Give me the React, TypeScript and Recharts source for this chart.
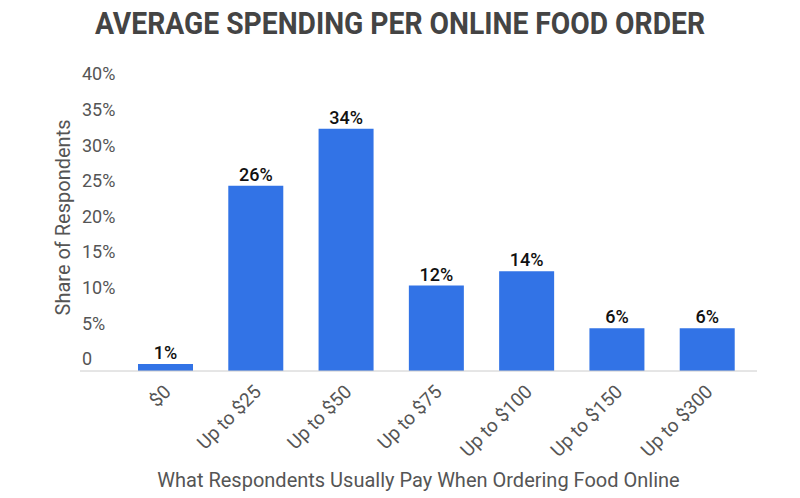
import { Bar, BarChart, LabelList, XAxis, YAxis } from 'recharts'

const categories = ['$0', 'Up to $25', 'Up to $50', 'Up to $75', 'Up to $100', 'Up to $150', 'Up to $300']
const shares = [1, 26, 34, 12, 14, 6, 6]
const yTicks = [0, 5, 10, 15, 20, 25, 30, 35, 40]

const data = categories.map((label, i) => ({ label, value: shares[i] }))

const FONT = 'Roboto, sans-serif'

function YTick(props: any) {
  const { x, y, payload } = props
  const v = payload.value
  return (
    <text x={x + 2} y={y - 12} dy="0.35em" textAnchor="start" fontFamily={FONT} fontSize={18} fill="#555">
      {v === 0 ? '0' : `${v}%`}
    </text>
  )
}

function XTick(props: any) {
  const { x, y, payload } = props
  const tx = x + 7
  const ty = y + 14
  return (
    <text
      x={tx}
      y={ty}
      textAnchor="end"
      transform={`rotate(-45, ${tx}, ${ty})`}
      fontFamily={FONT}
      fontSize={19}
      fill="#555"
    >
      {payload.value}
    </text>
  )
}

function YTitle(props: any) {
  const { viewBox } = props
  const cx = viewBox.x + viewBox.width - 17
  const cy = viewBox.y + viewBox.height / 2 - 11
  return (
    <text
      x={cx}
      y={cy}
      textAnchor="middle"
      dy="0.35em"
      transform={`rotate(-90, ${cx}, ${cy})`}
      fontFamily={FONT}
      fontSize={20}
      fill="#555"
    >
      Share of Respondents
    </text>
  )
}

export default function App() {
  return (
    <div style={{ position: 'absolute', left: 0, top: 0, width: 800, height: 498, background: '#fff' }}>
      <svg width={800} height={50} style={{ position: 'absolute', left: 0, top: 0 }}>
        <text
          x={400}
          y={34}
          textAnchor="middle"
          textLength={610}
          lengthAdjust="spacingAndGlyphs"
          fontFamily={FONT}
          fontWeight={700}
          fontSize={31}
          fill="#444"
        >
          AVERAGE SPENDING PER ONLINE FOOD ORDER
        </text>
      </svg>
      <div style={{ position: 'absolute', left: 0, top: 0 }}>
        <BarChart width={800} height={498} data={data} margin={{ top: 86, right: 43, bottom: 0, left: 0 }}>
          <XAxis
            dataKey="label"
            height={127}
            padding={{ left: 40, right: 5 }}
            axisLine={{ stroke: '#ccc' }}
            tickLine={false}
            interval={0}
            tick={<XTick />}
            label={{
              value: 'What Respondents Usually Pay When Ordering Food Online',
              position: 'insideBottom',
              offset: 11,
              fontFamily: FONT,
              fontSize: 20,
              fill: '#555',
            }}
          />
          <YAxis
            width={80}
            domain={[0, 40]}
            ticks={yTicks}
            axisLine={false}
            tickLine={false}
            tickSize={0}
            tickMargin={0}
            tick={<YTick />}
            label={<YTitle />}
          />
          <Bar dataKey="value" fill="#3273e6" barSize={55} isAnimationActive={false}>
            <LabelList
              dataKey="value"
              position="top"
              offset={5}
              formatter={(v: any) => `${v}%`}
              style={{ fontFamily: FONT, fontSize: 18, fontWeight: 500, fill: '#111' }}
            />
          </Bar>
        </BarChart>
      </div>
    </div>
  )
}
